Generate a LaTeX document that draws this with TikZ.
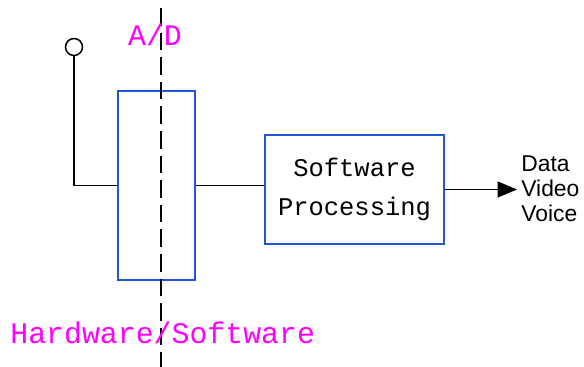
\documentclass[tikz,border=0pt]{standalone}
\usepackage{fontspec}
\setmainfont{Liberation Sans}
\newfontfamily\courfont{Liberation Mono}
\usetikzlibrary{arrows.meta}
\definecolor{boxblue}{RGB}{35,85,215}
\definecolor{labelpink}{RGB}{255,0,255}

\begin{document}
\begin{tikzpicture}[x=0.02cm,y=-0.02cm,%
    block/.style={draw=boxblue,line width=0.75pt,inner sep=0pt},
    wire/.style={line width=0.85pt},
    pink/.style={text=labelpink,font=\courfont\fontsize{17}{20}\selectfont}
  ]
		\useasboundingbox (0,0) rectangle (584,367);

		% converter block and the A/D split
		\node at (156.5,185.5) [block,minimum width=1.54cm,minimum height=3.78cm] (conv) {};
		\coordinate (splittop) at (161,8);
		\coordinate (splitbot) at (161,367);
		\draw[wire,dash pattern=on 10pt off 4pt,line width=0.7pt] (splittop) -- (splitbot);

		% antenna
		\node at (74,47) [circle,draw,line width=0.85pt,minimum size=0.34cm,inner sep=0pt] (ant) {};
		\draw[wire] (ant.south) |- (conv.west);

		% processing block
		\node at (354.5,189.5) [block,minimum width=3.58cm,minimum height=2.18cm,align=center,
			font=\courfont\fontsize{14.5}{22}\selectfont] (proc) {Software\\Processing};
		\draw[wire] (conv.east) -- (conv.east -| proc.west);

		% output
		\coordinate (out) at (517,189.5);
		\draw[wire,line width=1pt,-{Triangle[length=11pt,width=9pt]}] (proc.east) -- (out);
		\node at (521,189) [anchor=west,align=left,inner sep=0pt,
			font=\fontsize{13}{14.2}\selectfont] (media) {Data\\Video\\Voice};

		\node at (155,35) [pink] (adlabel) {A/D};
		\node at (10,333) [pink,anchor=west,inner sep=0pt] (hwsw) {Hardware/Software};
	\end{tikzpicture}
\end{document}
